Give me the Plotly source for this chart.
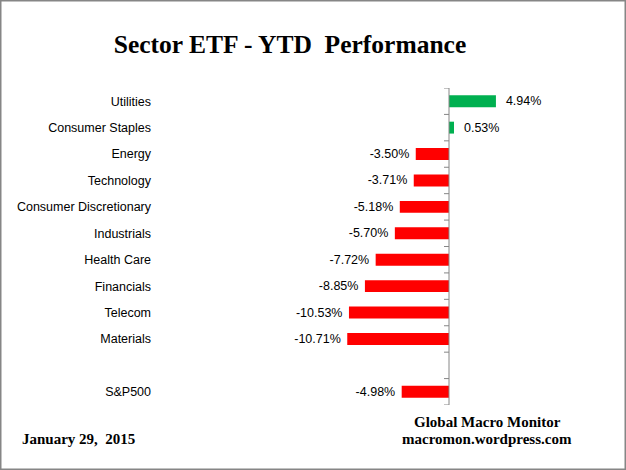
import plotly.graph_objects as go

# sector ETF year-to-date returns (%)
sectors = ["Utilities", "Consumer Staples", "Energy", "Technology",
           "Consumer Discretionary", "Industrials", "Health Care",
           "Financials", "Telecom", "Materials", " ", "S&P500"]
returns = [4.94, 0.53, -3.50, -3.71, -5.18, -5.70, -7.72, -8.85,
           -10.53, -10.71, None, -4.98]

colors = ["#00B050" if (v is not None and v > 0) else "#FF0000" for v in returns]
labels = []
for v in returns:
    if v is None:
        labels.append("")
    elif v > 0:
        labels.append("  %.2f%%" % v)
    else:
        labels.append("%.2f%% " % v)

W, H = 626, 470
L, R, T, B = 152, 26, 88, 65
pw, ph = W - L - R, H - T - B
ppu = 9.5  # pixels per percent
zero_px = 449 - L
xmin = -zero_px / ppu
xmax = (pw - zero_px) / ppu

fig = go.Figure()
fig.add_trace(go.Bar(
    y=sectors, x=returns, orientation="h",
    marker=dict(color=colors, line=dict(width=0)),
    width=0.45,
    text=labels, textposition="outside", constraintext="none",
    textfont=dict(family="Liberation Sans", size=12.5, color="black"),
    cliponaxis=False, showlegend=False,
))

# vertical axis at zero with tick marks between categories
n = len(sectors)
tick_len = 5 / ppu
tx, ty = [0, 0, None], [-0.5, n - 0.5, None]
for i in range(n + 1):
    tx += [-tick_len, 0, None]
    ty += [i - 0.5, i - 0.5, None]
fig.add_trace(go.Scatter(x=tx, y=ty, yaxis="y2", mode="lines",
                         line=dict(color="#868686", width=1),
                         showlegend=False, hoverinfo="skip", cliponaxis=False))

# outer border
fig.add_shape(type="rect", xref="paper", yref="paper",
              x0=-L / pw + 0.75 / pw, x1=1 + R / pw - 0.75 / pw,
              y0=-B / ph + 0.75 / ph, y1=1 + T / ph - 0.75 / ph,
              line=dict(color="#868686", width=1.5))

fig.update_layout(
    width=W, height=H,
    margin=dict(l=L, r=R, t=T, b=B),
    paper_bgcolor="white", plot_bgcolor="white",
    title=dict(text="<b>Sector ETF - YTD  Performance</b>", x=290 / W, xanchor="center",
               y=1 - 44 / H, yanchor="middle",
               font=dict(family="Liberation Serif", size=25.5, color="black")),
    xaxis=dict(range=[xmin, xmax], visible=False),
    yaxis=dict(type="category", categoryorder="array", categoryarray=sectors,
               range=[n - 0.5, -0.5],
               showgrid=False, zeroline=False, showline=False, ticks="",
               tickfont=dict(family="Liberation Sans", size=12.5, color="black")),
    yaxis2=dict(overlaying="y", range=[n - 0.5, -0.5], visible=False),
    font=dict(family="Liberation Sans"),
)

foot = dict(family="Liberation Serif", size=15, color="black")
fig.add_annotation(text="<b>Global Macro Monitor</b>", xref="paper", yref="paper",
                   x=(487 - L) / pw, y=-(422 - T - ph) / ph, xanchor="center", yanchor="middle",
                   showarrow=False, font=foot)
fig.add_annotation(text="<b>macromon.wordpress.com</b>", xref="paper", yref="paper",
                   x=(487 - L) / pw, y=-(439 - T - ph) / ph, xanchor="center", yanchor="middle",
                   showarrow=False, font=foot)
fig.add_annotation(text="<b>January 29,  2015</b>", xref="paper", yref="paper",
                   x=(20 - L) / pw, y=-(439 - T - ph) / ph, xanchor="left", yanchor="middle",
                   showarrow=False, font=foot)

fig.write_html("out.html", config={"displayModeBar": False},
               post_script="document.body.style.margin='0';")
